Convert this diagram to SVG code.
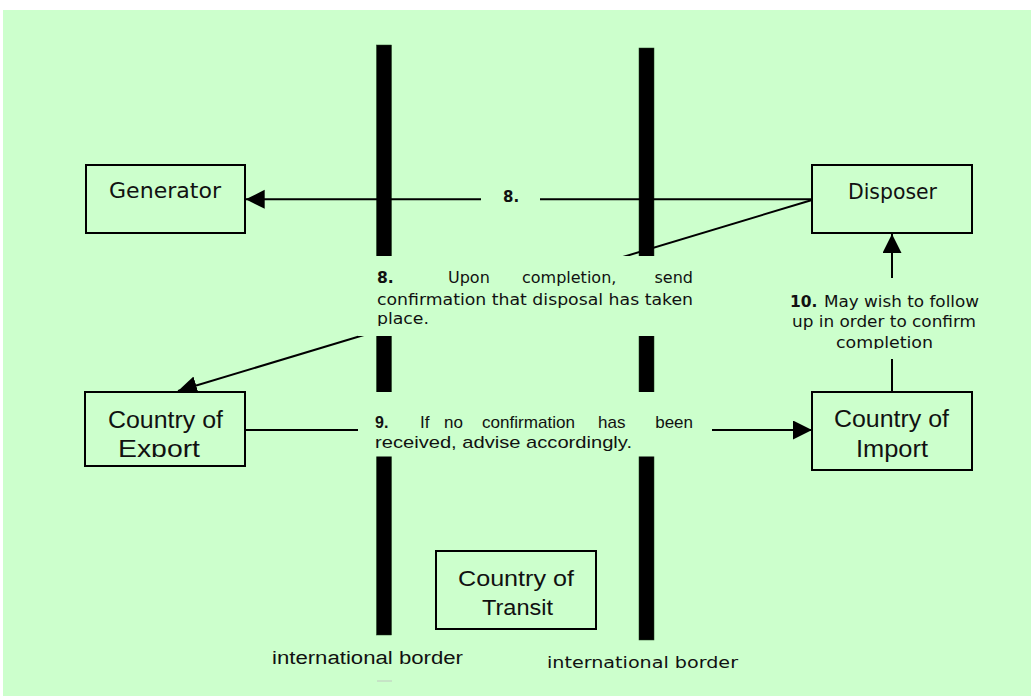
<svg xmlns="http://www.w3.org/2000/svg" width="1031" height="696" viewBox="0 0 1031 696">
  <defs>
    <style>
      .bg { fill: #CCFFCC; }
      .mask { fill: #CCFFCC; stroke: none; }
      .bar { fill: #000; stroke: #1a3a1a; stroke-width: 0.5; }
      .box { fill: #CCFFCC; stroke: #000; stroke-width: 2; }
      .conn { stroke: #000; stroke-width: 2; fill: none; }
      .gothic { font-family: "DejaVu Sans", "Liberation Sans", sans-serif; fill: #111; }
      .plain { font-family: "Liberation Sans", Arial, sans-serif; fill: #111; }
      .b { font-weight: bold; }
      .end { text-anchor: end; }
    </style>
    <marker id="arrow" markerUnits="userSpaceOnUse" markerWidth="20" markerHeight="20" refX="19" refY="9.5" orient="auto">
      <path d="M0,0 L19,9.5 L0,19 z" fill="#000"/>
    </marker>
    <clipPath id="clip8"><rect x="358" y="256" width="354" height="70"/></clipPath>
    <clipPath id="clip10"><rect x="780" y="278" width="210" height="71"/></clipPath>
    <clipPath id="clipExport"><rect x="86" y="393" width="158" height="64"/></clipPath>
  </defs>

  <!-- page background -->
  <rect class="bg" x="3" y="10" width="1028" height="686"/>

  <!-- international borders -->
  <g id="borders">
    <rect class="bar" x="376.5" y="45" width="15" height="590"/>
    <rect class="bar" x="639" y="48" width="15" height="592"/>
    <line x1="377" y1="681" x2="392" y2="681" stroke="#c0c8c0" stroke-width="1"/>
  </g>

  <!-- connectors -->
  <g id="connectors">
    <line class="conn" x1="481" y1="199.3" x2="245.7" y2="199.3" marker-end="url(#arrow)"/>
    <line class="conn" x1="540" y1="199.3" x2="812" y2="199.3"/>
    <line class="conn" x1="812" y1="200" x2="178" y2="391" marker-end="url(#arrow)"/>
    <line class="conn" x1="245" y1="430" x2="812" y2="430" marker-end="url(#arrow)"/>
    <line class="conn" x1="892" y1="392" x2="892" y2="234" marker-end="url(#arrow)"/>
  </g>

  <!-- label frames covering lines and borders -->
  <g id="label-frames">
    <rect class="mask" x="358" y="256" width="354" height="80"/>
    <rect class="mask" x="358" y="392" width="354" height="64.5"/>
    <rect class="mask" x="782" y="278" width="206" height="81"/>
  </g>

  <!-- step 8 label on the upper connector -->
  <g id="label-8-short">
    <text class="gothic b" x="503" y="202" font-size="15">8.</text>
  </g>

  <!-- step 8 description -->
  <g id="label-8" clip-path="url(#clip8)">
    <text class="gothic b" x="377" y="283" font-size="15.5">8.</text>
    <text class="gothic" x="448" y="283" font-size="16">Upon</text>
    <text class="gothic" x="522" y="283" font-size="16">completion,</text>
    <text class="gothic end" x="693" y="283" font-size="16">send</text>
    <text class="gothic" x="377" y="305" font-size="16" textLength="316" lengthAdjust="spacingAndGlyphs">confirmation that disposal has taken</text>
    <text class="gothic" x="377" y="324" font-size="16" textLength="52" lengthAdjust="spacingAndGlyphs">place.</text>
  </g>

  <!-- step 9 description -->
  <g id="label-9">
    <text class="plain b" x="375" y="428" font-size="16">9.</text>
    <text class="plain" x="420" y="428" font-size="17">If</text>
    <text class="plain" x="444" y="428" font-size="17">no</text>
    <text class="plain" x="482" y="428" font-size="17" textLength="93" lengthAdjust="spacingAndGlyphs">confirmation</text>
    <text class="plain" x="598" y="428" font-size="17">has</text>
    <text class="plain end" x="693" y="428" font-size="17">been</text>
    <text class="plain" x="375" y="448" font-size="17" textLength="257" lengthAdjust="spacingAndGlyphs">received, advise accordingly.</text>
  </g>

  <!-- step 10 description -->
  <g id="label-10" clip-path="url(#clip10)">
    <text class="gothic b" x="790" y="307" font-size="15.5">10.</text>
    <text class="gothic" x="824" y="307" font-size="16" textLength="155" lengthAdjust="spacingAndGlyphs">May wish to follow</text>
    <text class="gothic" x="792" y="327" font-size="16" textLength="184" lengthAdjust="spacingAndGlyphs">up in order to confirm</text>
    <text class="gothic" x="836" y="348" font-size="16" textLength="97" lengthAdjust="spacingAndGlyphs">completion</text>
  </g>

  <!-- parties -->
  <g id="generator">
    <rect class="box" x="86" y="165" width="159" height="68"/>
    <text class="gothic" x="109" y="198" font-size="21" textLength="112" lengthAdjust="spacingAndGlyphs">Generator</text>
  </g>

  <g id="disposer">
    <rect class="box" x="812" y="165" width="160" height="68"/>
    <text class="gothic" x="848" y="198.5" font-size="21" textLength="89" lengthAdjust="spacingAndGlyphs">Disposer</text>
  </g>

  <g id="country-of-export">
    <rect class="box" x="85" y="392" width="160" height="74"/>
    <g clip-path="url(#clipExport)">
      <text class="plain" x="108" y="428" font-size="23" textLength="115" lengthAdjust="spacingAndGlyphs">Country of</text>
      <text class="plain" x="118" y="457" font-size="23" textLength="82" lengthAdjust="spacingAndGlyphs">Export</text>
    </g>
  </g>

  <g id="country-of-import">
    <rect class="box" x="812" y="392" width="160" height="78"/>
    <text class="plain" x="834" y="427" font-size="23" textLength="115" lengthAdjust="spacingAndGlyphs">Country of</text>
    <text class="plain" x="856" y="457" font-size="23" textLength="72" lengthAdjust="spacingAndGlyphs">Import</text>
  </g>

  <g id="country-of-transit">
    <rect class="box" x="436" y="551" width="160" height="78"/>
    <text class="plain" x="458" y="585.5" font-size="22" textLength="116" lengthAdjust="spacingAndGlyphs">Country of</text>
    <text class="plain" x="482" y="615" font-size="22" textLength="71" lengthAdjust="spacingAndGlyphs">Transit</text>
  </g>

  <!-- border captions -->
  <g id="border-captions">
    <text class="plain" x="272" y="664" font-size="18" textLength="191" lengthAdjust="spacingAndGlyphs">international border</text>
    <text class="gothic" x="547" y="668" font-size="16" textLength="191" lengthAdjust="spacingAndGlyphs">international border</text>
  </g>
</svg>
